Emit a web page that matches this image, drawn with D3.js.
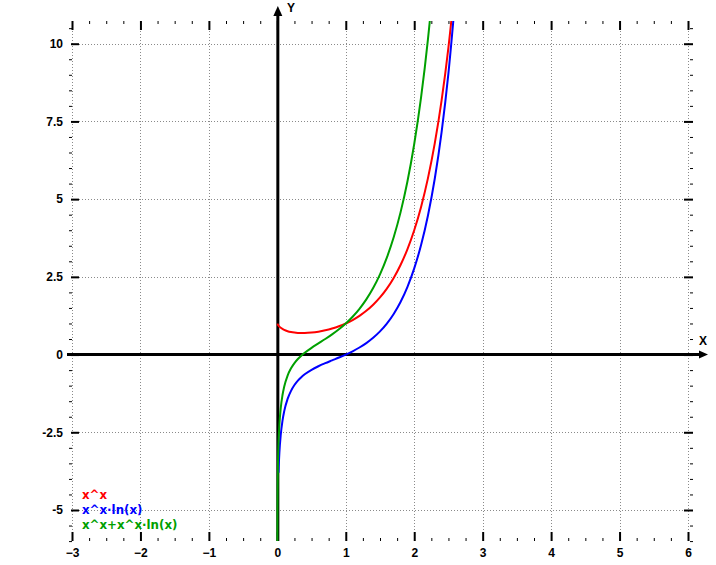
<!DOCTYPE html>
<html>
<head>
<meta charset="utf-8">
<script src="https://cdn.jsdelivr.net/npm/d3@7"></script>
<style>
  html, body { margin: 0; padding: 0; background: #fff; }
  svg { display: block; }
</style>
</head>
<body>
<script>
// ---- data ----
const xTickValues = [-3, -2, -1, 0, 1, 2, 3, 4, 5, 6];
const yTickValues = [-5, -2.5, 0, 2.5, 5, 7.5, 10];
const yTickLabels = ["-5", "-2.5", "0", "2.5", "5", "7.5", "10"];
const seriesNames = ["x^x", "x^x·ln(x)", "x^x+x^x·ln(x)"];
const seriesColors = ["#ff0000", "#0000ff", "#00a000"];

const xValues = [0.0005, 0.001, 0.002, 0.005, 0.01, 0.02, 0.03, 0.05, 0.075, 0.1, 0.15, 0.2, 0.25, 0.3, 0.35, 0.4, 0.5, 0.6, 0.7, 0.8, 0.9, 1.0, 1.1, 1.2, 1.3, 1.4, 1.5, 1.6, 1.7, 1.8, 1.9, 2.0, 2.1, 2.2, 2.3, 2.4, 2.5, 2.6];
const redValues = [0.9962, 0.9931, 0.9876, 0.9739, 0.9550, 0.9247, 0.9001, 0.8609, 0.8234, 0.7943, 0.7524, 0.7248, 0.7071, 0.6968, 0.6925, 0.6931, 0.7071, 0.7360, 0.7791, 0.8365, 0.9095, 1.0, 1.1105, 1.2446, 1.4065, 1.6017, 1.8371, 2.1213, 2.4647, 2.8807, 3.3856, 4.0, 4.7496, 5.6667, 6.7916, 8.1754, 9.8821, 11.9931];
const greenValues = [-6.5759, -5.8671, -5.1502, -4.1859, -3.4429, -2.6929, -2.2563, -1.7181, -1.3096, -1.0347, -0.6750, -0.4417, -0.2732, -0.1421, -0.0345, 0.0580, 0.2170, 0.3600, 0.5012, 0.6499, 0.8137, 1.0, 1.2164, 1.4715, 1.7755, 2.1406, 2.5820, 3.1182, 3.7725, 4.5739, 5.5586, 6.7726, 8.2726, 10.1341, 12.4482, 15.3327, 18.9370, 23.4530];
const blueX = [0.017, 0.02, 0.03, 0.05, 0.075, 0.1, 0.15, 0.2, 0.25, 0.3, 0.35, 0.4, 0.5, 0.6, 0.7, 0.8, 0.9, 1.0, 1.1, 1.2, 1.3, 1.4, 1.5, 1.6, 1.7, 1.8, 1.9, 2.0, 2.1, 2.2, 2.3, 2.4, 2.5, 2.6];
const blueValues = [-3.8018, -3.6176, -3.1564, -2.5790, -2.1330, -1.8290, -1.4273, -1.1665, -0.9803, -0.8390, -0.7270, -0.6351, -0.4901, -0.3760, -0.2779, -0.1867, -0.0958, 0.0, 0.1058, 0.2269, 0.3690, 0.5389, 0.7449, 0.9970, 1.3078, 1.6932, 2.1730, 2.7726, 3.5235, 4.4677, 5.6567, 7.1573, 9.0549, 11.4595];

// ---- layout ----
const W = 716, H = 565;
const x = d3.scaleLinear().domain([-3, 6]).range([72, 688]);
const y = d3.scaleLinear().domain([-5, 10]).range([510, 43.7]);
const edgeL = 71, edgeR = 693, edgeT = 21, edgeB = 541;
const yMax = y.invert(edgeT);
const xMax = x.invert(edgeR);

const svg = d3.select("body").append("svg").attr("width", W).attr("height", H);

// grid
const gridColor = "#8a8a8a";
svg.append("g").selectAll("line").data(xTickValues).join("line")
  .attr("x1", d => Math.round(x(d)) + 0.5).attr("x2", d => Math.round(x(d)) + 0.5)
  .attr("y1", 31).attr("y2", 532)
  .attr("stroke", gridColor).attr("stroke-dasharray", "1,2").attr("stroke-width", 1);
svg.append("g").selectAll("line").data(yTickValues).join("line")
  .attr("x1", 79).attr("x2", 684)
  .attr("y1", d => Math.round(y(d)) + 0.5).attr("y2", d => Math.round(y(d)) + 0.5)
  .attr("stroke", gridColor).attr("stroke-dasharray", "1,2").attr("stroke-width", 1);

// minor tick values
const xMinor = d3.range(-3, xMax + 0.001, 0.25).filter(v => Math.abs(v - Math.round(v)) > 1e-6);
const yMinor = d3.range(-6, yMax + 0.001, 0.5).filter(v => Math.abs(v / 2.5 - Math.round(v / 2.5)) > 1e-6);

const tickFont = "bold 12px 'Liberation Sans', Arial, sans-serif";

function styleAxis(g, w) {
  g.select(".domain").remove();
  g.selectAll(".tick line").attr("stroke", "#000").attr("stroke-width", w);
}

// bottom axis (labels)
svg.append("g").attr("transform", `translate(0,${edgeB})`)
  .call(d3.axisBottom(x).tickValues(xTickValues).tickSize(-9).tickPadding(7).tickFormat(d3.format("d")))
  .call(g => styleAxis(g, 2))
  .call(g => g.selectAll("text").style("font", tickFont).attr("fill", "#000"));
svg.append("g").attr("transform", `translate(0,${edgeB})`)
  .call(d3.axisBottom(x).tickValues(xMinor).tickSize(-3).tickFormat(""))
  .call(g => styleAxis(g, 1));
// top axis
svg.append("g").attr("transform", `translate(0,${edgeT})`)
  .call(d3.axisTop(x).tickValues(xTickValues).tickSize(-9).tickFormat(""))
  .call(g => styleAxis(g, 2));
svg.append("g").attr("transform", `translate(0,${edgeT})`)
  .call(d3.axisTop(x).tickValues(xMinor).tickSize(-3).tickFormat(""))
  .call(g => styleAxis(g, 1));
// left axis (labels)
svg.append("g").attr("transform", `translate(${edgeL},0)`)
  .call(d3.axisLeft(y).tickValues(yTickValues).tickSize(-8).tickPadding(8).tickFormat((d, i) => yTickLabels[i]))
  .call(g => styleAxis(g, 2))
  .call(g => g.selectAll("text").style("font", tickFont).attr("fill", "#000"));
svg.append("g").attr("transform", `translate(${edgeL + 1},0)`)
  .call(d3.axisLeft(y).tickValues(yMinor).tickSize(3).tickFormat(""))
  .call(g => styleAxis(g, 1));
// right axis
svg.append("g").attr("transform", `translate(${edgeR},0)`)
  .call(d3.axisRight(y).tickValues(yTickValues).tickSize(-9).tickFormat(""))
  .call(g => styleAxis(g, 2));
svg.append("g").attr("transform", `translate(${edgeR},0)`)
  .call(d3.axisRight(y).tickValues(yMinor).tickSize(-3).tickFormat(""))
  .call(g => styleAxis(g, 1));

// main axes
const x0 = x(0) + 0.5, y0 = y(0);
svg.append("line").attr("x1", 67).attr("x2", 701).attr("y1", y0).attr("y2", y0)
  .attr("stroke", "#000").attr("stroke-width", 3);
svg.append("path").attr("d", `M699,${y0 - 4}L708,${y0}L699,${y0 + 4}Z`).attr("fill", "#000");
svg.append("line").attr("x1", x0).attr("x2", x0).attr("y1", edgeB).attr("y2", 14)
  .attr("stroke", "#000").attr("stroke-width", 3);
svg.append("path").attr("d", `M${x0 - 4.5},16L${x0},6L${x0 + 4.5},16Z`).attr("fill", "#000");

svg.append("text").attr("x", 703).attr("y", 345).attr("text-anchor", "middle")
  .style("font", tickFont).text("X");
svg.append("text").attr("x", 291).attr("y", 12).attr("text-anchor", "middle")
  .style("font", tickFont).text("Y");

// curves
svg.append("clipPath").attr("id", "clip").append("rect")
  .attr("x", edgeL).attr("y", edgeT).attr("width", edgeR - edgeL).attr("height", edgeB - edgeT);
const line = d3.line().x(d => x(d[0])).y(d => y(d[1])).curve(d3.curveMonotoneX);
const series = [
  d3.zip(xValues, redValues),
  d3.zip(blueX, blueValues),
  d3.zip(xValues, greenValues)
];
const cg = svg.append("g").attr("clip-path", "url(#clip)");
cg.selectAll("path").data(series).join("path")
  .attr("d", line).attr("fill", "none")
  .attr("stroke", (d, i) => seriesColors[i]).attr("stroke-width", 2);

// legend
svg.append("g").selectAll("text").data(seriesNames).join("text")
  .attr("x", 82).attr("y", (d, i) => 499 + i * 15)
  .attr("fill", (d, i) => seriesColors[i])
  .style("font", "bold 11.8px 'DejaVu Sans', sans-serif")
  .text(d => d);
</script>
</body>
</html>
